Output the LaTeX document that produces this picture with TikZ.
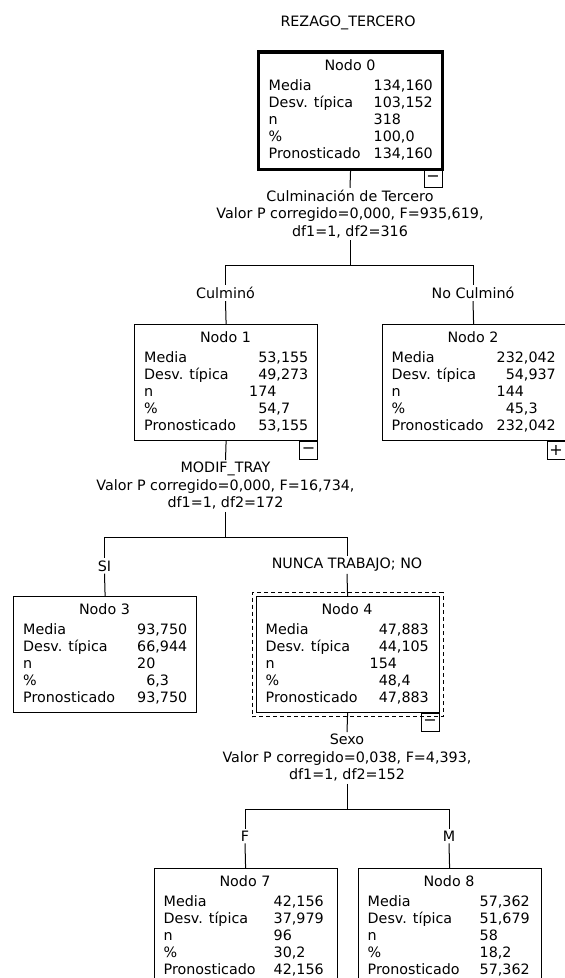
\documentclass[tikz,border=0pt]{standalone}
\usepackage{fontspec}
\setmainfont{DejaVu Sans}
\usetikzlibrary{calc}
\newcommand{\pd}{\phantom{0}}
\tikzset{
  txt/.style={inner sep=0pt},
  statframe/.style={draw, line width=1.2pt, minimum width=183pt, minimum height=116pt, inner sep=0pt},
  dashframe/.style={draw, line width=1pt, dash pattern=on 4pt off 3pt, minimum width=191pt, minimum height=124pt, inner sep=0pt},
  toggle/.style={draw, line width=1.2pt, minimum size=18pt, inner sep=0pt, font=\fontsize{16}{16}\selectfont, anchor=north east},
  branch/.style={inner sep=2pt},
  split/.style={align=center, inner sep=2pt},
  conn/.style={line width=1pt},
}
% #1 number, #2 left x, #3 top y, #4 value column, #5-#9 values
\newcommand{\statbox}[9]{%
  \node[statframe, anchor=north west] (n#1) at (#2,#3) {};
  \node[txt, anchor=base] (n#1t) at ($(n#1.north west)+(91.5,18)$) {Nodo #1};
  \node[txt, anchor=base west] (n#1la) at ($(n#1.north west)+(10,38)$) {Media};
  \node[txt, anchor=base west] (n#1lb) at ($(n#1.north west)+(10,55)$) {Desv. típica};
  \node[txt, anchor=base west] (n#1lc) at ($(n#1.north west)+(10,72)$) {n};
  \node[txt, anchor=base west] (n#1ld) at ($(n#1.north west)+(10,89)$) {\%};
  \node[txt, anchor=base west] (n#1le) at ($(n#1.north west)+(10,106)$) {Pronosticado};
  \node[txt, anchor=base west] (n#1va) at ($(n#1.north west)+(#4,38)$) {#5};
  \node[txt, anchor=base west] (n#1vb) at ($(n#1.north west)+(#4,55)$) {#6};
  \node[txt, anchor=base west] (n#1vc) at ($(n#1.north west)+(#4,72)$) {#7};
  \node[txt, anchor=base west] (n#1vd) at ($(n#1.north west)+(#4,89)$) {#8};
  \node[txt, anchor=base west] (n#1ve) at ($(n#1.north west)+(#4,106)$) {#9};
}
\begin{document}
\begin{tikzpicture}[x=1pt, y=-1pt, font=\fontsize{14.3}{17.5}\selectfont]
\path[use as bounding box] (0,0) rectangle (565,978);
\fill[white] (0,0) rectangle (565,978);
\clip (0,0) rectangle (565,978);

\node[txt] (title) at (348,23) {REZAGO\_TERCERO};

\statbox{0}{258.5}{52}{115}{134,160}{103,152}{318}{100,0}{134,160}
\draw[line width=3.2pt] (n0.north west) rectangle (n0.south east);
\node[toggle] (m0) at (n0.south east) {−};

\node[split] (s0) at (350,214) {Culminación de Tercero\\Valor P corregido=0,000, F=935,619,\\df1=1, df2=316};
\coordinate (j0) at (350,265);
\coordinate (j0l) at (225.5,265);
\coordinate (j0r) at (473,265);
\node[branch] (l1) at (225.5,293) {Culminó};
\node[branch] (l2) at (473,293) {No Culminó};

\statbox{1}{134}{324}{115}{\pd53,155}{\pd49,273}{174}{\pd54,7}{\pd53,155}
\node[toggle] (m1) at (n1.south east) {−};
\statbox{2}{381.5}{324}{115}{232,042}{\pd54,937}{144}{\pd45,3}{232,042}
\node[toggle] (m2) at (n2.south east) {+};

\node[split] (s1) at (225.5,486) {MODIF\_TRAY\\Valor P corregido=0,000, F=16,734,\\df1=1, df2=172};
\coordinate (j1) at (225.5,537);
\coordinate (j1l) at (104.5,537);
\coordinate (j1r) at (347,537);
\node[branch] (l3) at (104.5,566) {SI};
\node[branch] (l4) at (347,565) {NUNCA TRABAJO; NO};

\statbox{3}{13}{596}{124}{93,750}{66,944}{20}{\pd6,3}{93,750}
\statbox{4}{255.5}{596}{114}{\pd47,883}{\pd44,105}{154}{\pd48,4}{\pd47,883}
\node[dashframe] (n4d) at (n4.center) {};
\node[toggle] (m4) at (n4.south east) {−};

\node[split] (s4) at (347,758) {Sexo\\Valor P corregido=0,038, F=4,393,\\df1=1, df2=152};
\coordinate (j4) at (347,809);
\coordinate (j4l) at (245,809);
\coordinate (j4r) at (449,809);
\node[branch] (l7) at (245,836) {F};
\node[branch] (l8) at (449,836) {M};

\statbox{7}{153.5}{868}{120}{42,156}{37,979}{96}{30,2}{42,156}
\statbox{8}{357.5}{868}{122}{57,362}{51,679}{58}{18,2}{57,362}

% connectors
\draw[conn] (n0.south) -- (s0.north);
\draw[conn] (s0.south) -- (j0);
\draw[conn] (j0l) -- (j0r);
\draw[conn] (j0l) -- (l1.north);
\draw[conn] (l1.south) -- (n1.north);
\draw[conn] (j0r) -- (l2.north);
\draw[conn] (l2.south) -- (n2.north);

\draw[conn] (n1.south) -- (s1.north);
\draw[conn] (s1.south) -- (j1);
\draw[conn] (j1l) -- (j1r);
\draw[conn] (j1l) -- (l3.north);
\draw[conn] (l3.south) -- (n3.north);
\draw[conn] (j1r) -- (l4.north);
\draw[conn] (l4.south) -- (n4.north);

\draw[conn] (n4.south) -- (s4.north);
\draw[conn] (s4.south) -- (j4);
\draw[conn] (j4l) -- (j4r);
\draw[conn] (j4l) -- (l7.north);
\draw[conn] (l7.south) -- (n7.north);
\draw[conn] (j4r) -- (l8.north);
\draw[conn] (l8.south) -- (n8.north);
\end{tikzpicture}
\end{document}
